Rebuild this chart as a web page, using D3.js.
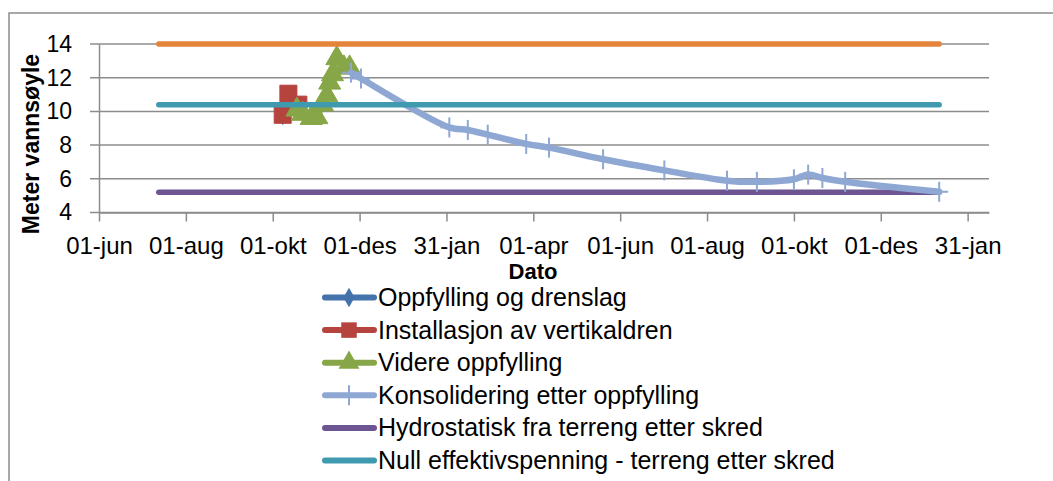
<!DOCTYPE html>
<html>
<head>
<meta charset="utf-8">
<script src="https://cdn.jsdelivr.net/npm/d3@7"></script>
<style>
  body { margin: 0; background: #fff; }
  svg { display: block; font-family: "Liberation Sans", Arial, sans-serif; }
</style>
</head>
<body>
<svg id="chart" width="1053" height="481"></svg>
<script>
// ---- data ----
var monthNames = ["jan", "feb", "mar", "apr", "mai", "jun", "jul", "aug", "sep", "okt", "nov", "des"];
var xTickDates = ["2011-06-01", "2011-08-01", "2011-10-01", "2011-12-01", "2012-01-31", "2012-04-01",
                  "2012-06-01", "2012-08-01", "2012-10-01", "2012-12-01", "2013-01-31"];
var yTicks = [4, 6, 8, 10, 12, 14];

var oppfyllingDates = ["2011-10-08"];
var oppfyllingValues = [9.8];

var installDates = ["2011-10-08", "2011-10-12", "2011-10-19"];
var installValues = [9.8, 11.05, 10.4];

var videreDates = ["2011-10-18", "2011-10-22", "2011-10-28", "2011-11-01", "2011-11-05", "2011-11-08",
                   "2011-11-10", "2011-11-12", "2011-11-15", "2011-11-20", "2011-11-24"];
var videreValues = [10.1, 9.85, 9.6, 9.65, 10.4, 10.95, 11.7, 12.2, 13.15, 12.6, 12.6];

var konsDates = ["2011-11-25", "2011-12-02", "2012-02-02", "2012-02-15", "2012-02-29", "2012-03-27",
                 "2012-04-12", "2012-05-20", "2012-07-02", "2012-08-15", "2012-09-05", "2012-10-01",
                 "2012-10-11", "2012-10-21", "2012-11-06", "2013-01-11"];
var konsValues = [12.3, 11.95, 9.05, 8.9, 8.62, 8.07, 7.85, 7.16, 6.5, 5.89, 5.82, 5.97,
                  6.25, 6.05, 5.82, 5.23];

var flatDates = ["2011-07-13", "2013-01-11"];
var hydroValues = [5.2, 5.2];
var nullValues = [10.4, 10.4];
var topValues = [14, 14];

var legendLabels = ["Oppfylling og drenslag", "Installasjon av vertikaldren", "Videre oppfylling",
                    "Konsolidering etter oppfylling", "Hydrostatisk fra terreng etter skred",
                    "Null effektivspenning - terreng etter skred"];

// ---- setup ----
var parse = d3.timeParse("%Y-%m-%d");
var svg = d3.select("#chart");
var gridColor = "#8c8c8c";

var x = d3.scaleTime().domain([parse("2011-06-01"), parse("2013-02-15")]).range([99, 989]);
var y = d3.scaleLinear().domain([4, 14]).range([212.5, 44]);

function pairs(dates, values) {
  return dates.map(function(d, i) { return { date: parse(d), value: values[i] }; });
}

// outer chart frame (cropped)
svg.append("rect").attr("x", 9).attr("y", 13).attr("width", 1100).attr("height", 520)
  .attr("fill", "none").attr("stroke", gridColor).attr("stroke-width", 1.5);

// gridlines
svg.append("g").selectAll("line").data(yTicks).enter().append("line")
  .attr("x1", 90).attr("x2", 989)
  .attr("y1", function(d) { return y(d); }).attr("y2", function(d) { return y(d); })
  .attr("stroke", gridColor).attr("stroke-width", 1.5);

// y axis
var yAxis = svg.append("g").attr("transform", "translate(99,0)")
  .call(d3.axisLeft(y).tickValues(yTicks).tickSize(9).tickSizeOuter(0).tickPadding(18));
yAxis.select(".domain").attr("stroke", gridColor).attr("stroke-width", 1.5);
yAxis.selectAll(".tick line").attr("stroke", "none");
yAxis.selectAll("text").attr("font-size", 23).attr("fill", "#000")
  .attr("font-family", "Liberation Sans, Arial, sans-serif");

// x axis
var xAxis = svg.append("g").attr("transform", "translate(0," + y(4) + ")")
  .call(d3.axisBottom(x).tickValues(xTickDates.map(parse)).tickSize(9).tickSizeOuter(0).tickPadding(15)
    .tickFormat(function(d) { return d3.timeFormat("%d")(d) + "-" + monthNames[d.getMonth()]; }));
xAxis.select(".domain").attr("stroke", gridColor).attr("stroke-width", 1.5);
xAxis.selectAll(".tick line").attr("stroke", gridColor).attr("stroke-width", 1.5);
xAxis.selectAll("text").attr("font-size", 24).attr("fill", "#000")
  .attr("font-family", "Liberation Sans, Arial, sans-serif");

// axis titles
svg.append("text").attr("transform", "translate(39,144) rotate(-90)")
  .attr("text-anchor", "middle").attr("font-size", 23).attr("font-weight", "bold")
  .text("Meter vannsøyle");
svg.append("text").attr("x", 533).attr("y", 278.5)
  .attr("text-anchor", "middle").attr("font-size", 22).attr("font-weight", "bold")
  .text("Dato");

// ---- series ----
var line = d3.line().x(function(d) { return x(d.date); }).y(function(d) { return y(d.value); })
  .curve(d3.curveCatmullRom);

var symbols = {
  diamond: d3.symbol().type(d3.symbolDiamond).size(110),
  square: d3.symbol().type(d3.symbolSquare).size(290),
  triangle: d3.symbol().type(d3.symbolTriangle).size(210)
};
var legendSymbols = {
  diamond: d3.symbol().type(d3.symbolDiamond).size(110),
  square: d3.symbol().type(d3.symbolSquare).size(240),
  triangle: d3.symbol().type(d3.symbolTriangle).size(190)
};

var series = [
  { name: "hydro", data: pairs(flatDates, hydroValues), color: "#6d5591", width: 5.5 },
  { name: "opp", data: pairs(oppfyllingDates, oppfyllingValues), color: "#4472ab", width: 5.5, marker: "diamond" },
  { name: "inst", data: pairs(installDates, installValues), color: "#b5443f", width: 5.5, marker: "square" },
  { name: "vid", data: pairs(videreDates, videreValues), color: "#86a648", width: 5.5, marker: "triangle" },
  { name: "kons", data: pairs(konsDates, konsValues), color: "#8ea8d3", width: 6.5, marker: "plus" },
  { name: "null", data: pairs(flatDates, nullValues), color: "#3f9ab0", width: 5.5 },
  { name: "top", data: pairs(flatDates, topValues), color: "#e4833a", width: 5.5 }
];

series.forEach(function(s) {
  var g = svg.append("g").attr("class", "series-" + s.name);
  g.append("path").datum(s.data)
    .attr("d", line).attr("fill", "none")
    .attr("stroke", s.color).attr("stroke-width", s.width).attr("stroke-linecap", "round");
  if (s.marker == "plus") {
    var m = g.selectAll(".m").data(s.data).enter().append("g")
      .attr("transform", function(d) { return "translate(" + x(d.date) + "," + y(d.value) + ")"; });
    m.append("line").attr("x1", 0).attr("x2", 0).attr("y1", -10).attr("y2", 10)
      .attr("stroke", s.color).attr("stroke-width", 2);
    m.append("line").attr("x1", -9).attr("x2", 9).attr("y1", 0).attr("y2", 0)
      .attr("stroke", s.color).attr("stroke-width", 2);
  } else if (s.marker) {
    g.selectAll(".m").data(s.data).enter().append("path")
      .attr("d", symbols[s.marker])
      .attr("transform", function(d) { return "translate(" + x(d.date) + "," + y(d.value) + ")"; })
      .attr("fill", s.color).attr("stroke", s.color).attr("stroke-width", 1);
  }
});

// ---- legend ----
var legendSeries = [series[1], series[2], series[3], series[4], series[0], series[5]];
var legend = svg.append("g").attr("class", "legend");
legendSeries.forEach(function(s, i) {
  var cy = 297.5 + i * 32.6;
  var row = legend.append("g").attr("transform", "translate(0," + cy + ")");
  row.append("line").attr("x1", 325).attr("x2", 374).attr("y1", 0).attr("y2", 0)
    .attr("stroke", s.color).attr("stroke-width", 6).attr("stroke-linecap", "round");
  if (s.marker == "plus") {
    row.append("line").attr("x1", 349).attr("x2", 349).attr("y1", -10).attr("y2", 10)
      .attr("stroke", s.color).attr("stroke-width", 2);
  } else if (s.marker) {
    row.append("path").attr("d", legendSymbols[s.marker]).attr("transform", "translate(349,0)")
      .attr("fill", s.color);
  }
  row.append("text").attr("x", 378).attr("y", 8.5).attr("font-size", 25).attr("fill", "#000")
    .text(legendLabels[i]);
});
</script>
</body>
</html>
